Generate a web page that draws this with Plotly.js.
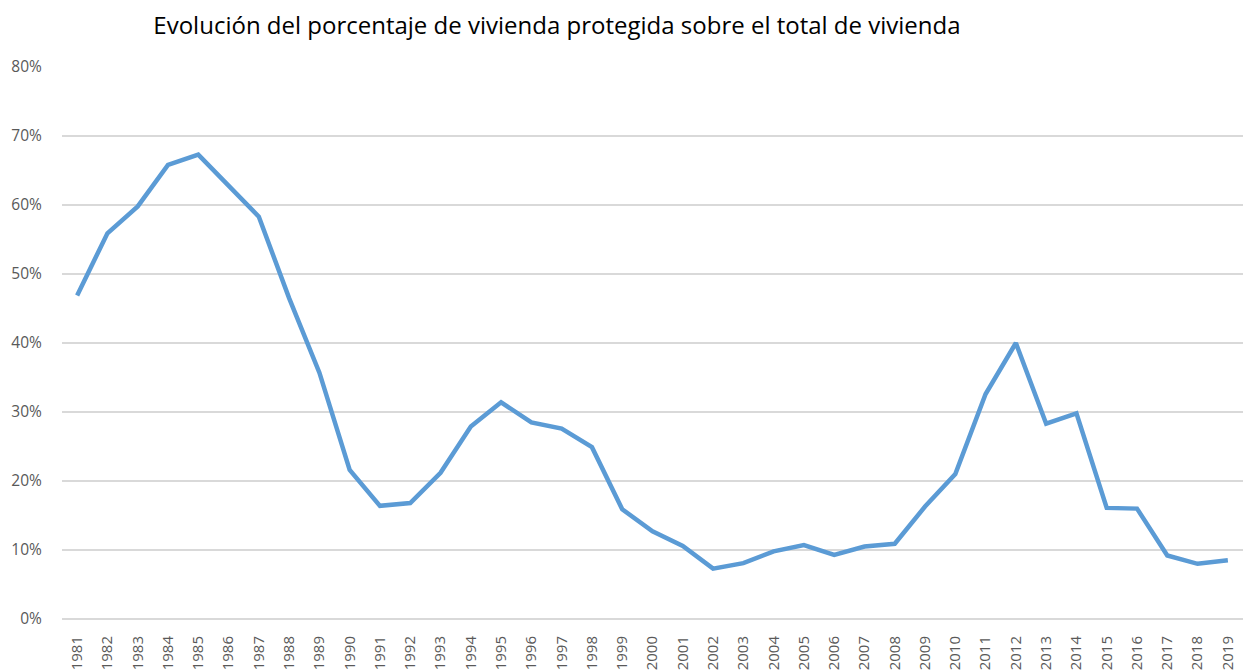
<!DOCTYPE html>
<html>
<head>
<meta charset="utf-8">
<script src="https://cdn.plot.ly/plotly-3.0.1.min.js"></script>
<style>html,body{margin:0;padding:0;background:#fff;}#chart{width:1246px;height:670px;}</style>
</head>
<body>
<div id="chart"></div>
<script>
const years = ["1981","1982","1983","1984","1985","1986","1987","1988","1989","1990","1991","1992","1993","1994","1995","1996","1997","1998","1999","2000","2001","2002","2003","2004","2005","2006","2007","2008","2009","2010","2011","2012","2013","2014","2015","2016","2017","2018","2019"];
const pctProtegida = [0.469,0.559,0.598,0.658,0.673,0.628,0.583,0.465,0.357,0.216,0.164,0.168,0.212,0.279,0.314,0.285,0.276,0.249,0.159,0.127,0.106,0.073,0.081,0.098,0.107,0.093,0.105,0.109,0.163,0.210,0.326,0.400,0.283,0.298,0.161,0.160,0.092,0.080,0.085];
const yTickVals = [0,0.1,0.2,0.3,0.4,0.5,0.6,0.7,0.8];

const trace = {
  x: years, y: pctProtegida, type: 'scatter', mode: 'lines',
  line: {color: '#5b9bd5', width: 4.5, shape: 'linear'},
  hoverinfo: 'x+y'
};
const layout = {
  width: 1246, height: 670,
  margin: {l: 62, r: 3, t: 67, b: 51},
  paper_bgcolor: '#ffffff', plot_bgcolor: '#ffffff',
  showlegend: false,
  title: {text: 'Evolución del porcentaje de vivienda protegida sobre el total de vivienda',
          font: {family: 'Open Sans, sans-serif', size: 24, color: '#000000'},
          x: 0.447, xanchor: 'center', y: 0.962, yanchor: 'middle'},
  xaxis: {type: 'category', range: [-0.5, 38.5], tickangle: -90,
          tickfont: {family: 'Open Sans, sans-serif', size: 15, color: '#595959'},
          showgrid: false, zeroline: false, showline: false,
          ticks: 'outside', ticklen: 10, tickcolor: 'rgba(0,0,0,0)', fixedrange: true},
  yaxis: {range: [0, 0.8], tickvals: yTickVals, tickformat: '.0%',
          tickfont: {family: 'Open Sans, sans-serif', size: 15.5, color: '#595959'},
          showgrid: true, gridcolor: '#d9d9d9', gridwidth: 1.3,
          zeroline: true, zerolinecolor: '#d9d9d9', zerolinewidth: 1.3,
          showline: false, ticks: 'outside', ticklen: 16, tickcolor: 'rgba(0,0,0,0)', fixedrange: true}
};
Plotly.newPlot('chart', [trace], layout, {displayModeBar: false, staticPlot: true});
</script>
</body>
</html>
